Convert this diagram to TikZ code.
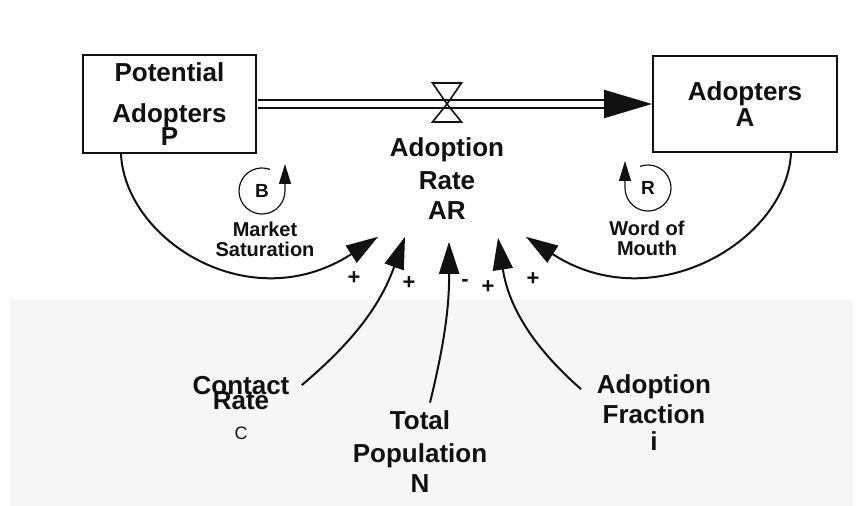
\documentclass[tikz,border=0pt]{standalone}
\usepackage{fontspec}
\setmainfont{Liberation Sans}
\usetikzlibrary{arrows.meta}
\definecolor{ink}{HTML}{111111}
\definecolor{paper}{HTML}{F6F6F6}
\tikzset{
  stock/.style={draw=ink,line width=1pt,inner sep=0pt,align=center,text=ink,
    font=\fontsize{13}{15.6}\selectfont\bfseries},
  varlabel/.style={align=center,text=ink,inner sep=0pt,
    font=\fontsize{13}{15.8}\selectfont\bfseries},
  pipe/.style={draw=ink,double,double distance=3pt,line width=1pt},
  flowtip/.style={-{Triangle[length=24pt,width=14pt]},line width=1pt,draw=ink},
  link/.style={-{Triangle[length=16pt,width=10pt]},line width=1pt,draw=ink},
  loopline/.style={-{Triangle[length=10pt,width=6pt]},line width=.6pt,draw=ink},
  loopmark/.style={text=ink,inner sep=0pt,font=\fontsize{9.5}{9.5}\selectfont\bfseries},
  looplabel/.style={align=center,text=ink,font=\fontsize{10}{10}\selectfont\bfseries},
  polarity/.style={text=ink,inner sep=0pt,font=\fontsize{11}{11}\selectfont\bfseries}
}

\begin{document}
\begin{tikzpicture}[x=.5pt,y=.5pt]
\useasboundingbox (0,0) rectangle (863,506);
\fill[white] (0,0) rectangle (863,506);
\fill[paper] (10,0) rectangle (853,206);

% Stocks and the flow between them
\node[stock,minimum width=86.5pt,minimum height=49pt] (potential) at (169.5,402)
  {Potential\\[5pt]Adopters\\[-3.8pt]P};
\node[stock,minimum width=92pt,minimum height=48pt] (adopters) at (745,402)
  {Adopters\\[-2.6pt]A};

\draw[pipe] ([xshift=.5pt]potential.east) -- ([xshift=-20pt]adopters.west);
\draw[flowtip] ([xshift=-24pt]adopters.west) -- (adopters.west);

\coordinate (valve) at (447,402);
\draw[ink,line width=.8pt,shift={(valve)}] (-14.5,21) -- (14.5,21) -- (0,0) -- cycle
  (0,0) -- (-14.5,-18) -- (14.5,-18) -- cycle;

\node[varlabel] (rate) at (447,327) {Adoption\\[.7pt]Rate\\[-.8pt]AR};

% Feedback loops
\node[loopmark] (bloop) at (262,315) {B};
\draw[loopline] ([shift={(70:23)}]bloop.center) arc[start angle=70,end angle=360,radius=23] -- ++(0,27);
\node[looplabel] (market) at (265,267) {Market\\Saturation};

\node[loopmark] (rloop) at (648,318) {R};
\draw[loopline] ([shift={(110:23)}]rloop.center) arc[start angle=110,end angle=-180,radius=23] -- ++(0,27);
\node[looplabel] (mouth) at (647,268) {Word of\\Mouth};

\draw[link] ([xshift=19.5pt]potential.south west) .. controls (125,266) and (250,186) .. ([shift={(-69,-16.5)}]rate.south);
\draw[link] ([xshift=-23.5pt]adopters.south east) .. controls (787,266) and (654,186) .. ([shift={(79,-16.5)}]rate.south);

% Auxiliary variables
\node[varlabel] (contact) at (241,98)
  {Contact\\[-8.3pt]Rate\\[-.5pt]{\fontsize{9}{9}\selectfont\mdseries C}};
\node[varlabel] (total) at (420,54.5) {Total\\[.7pt]Population\\[-.8pt]N};
\node[varlabel] (fraction) at (654,93) {Adoption\\[-.8pt]Fraction\\[-2.3pt]i};

\draw[link] ([shift={(12,-9.5)}]contact.north east) to[bend right=15] ([shift={(-42,-16.5)}]rate.south);
\draw[link] ([shift={(10,7.5)}]total.north) to[bend right=7] ([shift={(2,-21.5)}]rate.south);
\draw[link] ([shift={(-15.5,-14.5)}]fraction.north west) to[bend left=20] ([shift={(51,-17.5)}]rate.south);

% Link polarities
\node[polarity] (plusP) at (354,228) {+};
\node[polarity] (plusC) at (409,223) {+};
\node[polarity] (minusN) at (465,223) {-};
\node[polarity] (plusI) at (488,219) {+};
\node[polarity] (plusA) at (533,227) {+};

\end{tikzpicture}
\end{document}
